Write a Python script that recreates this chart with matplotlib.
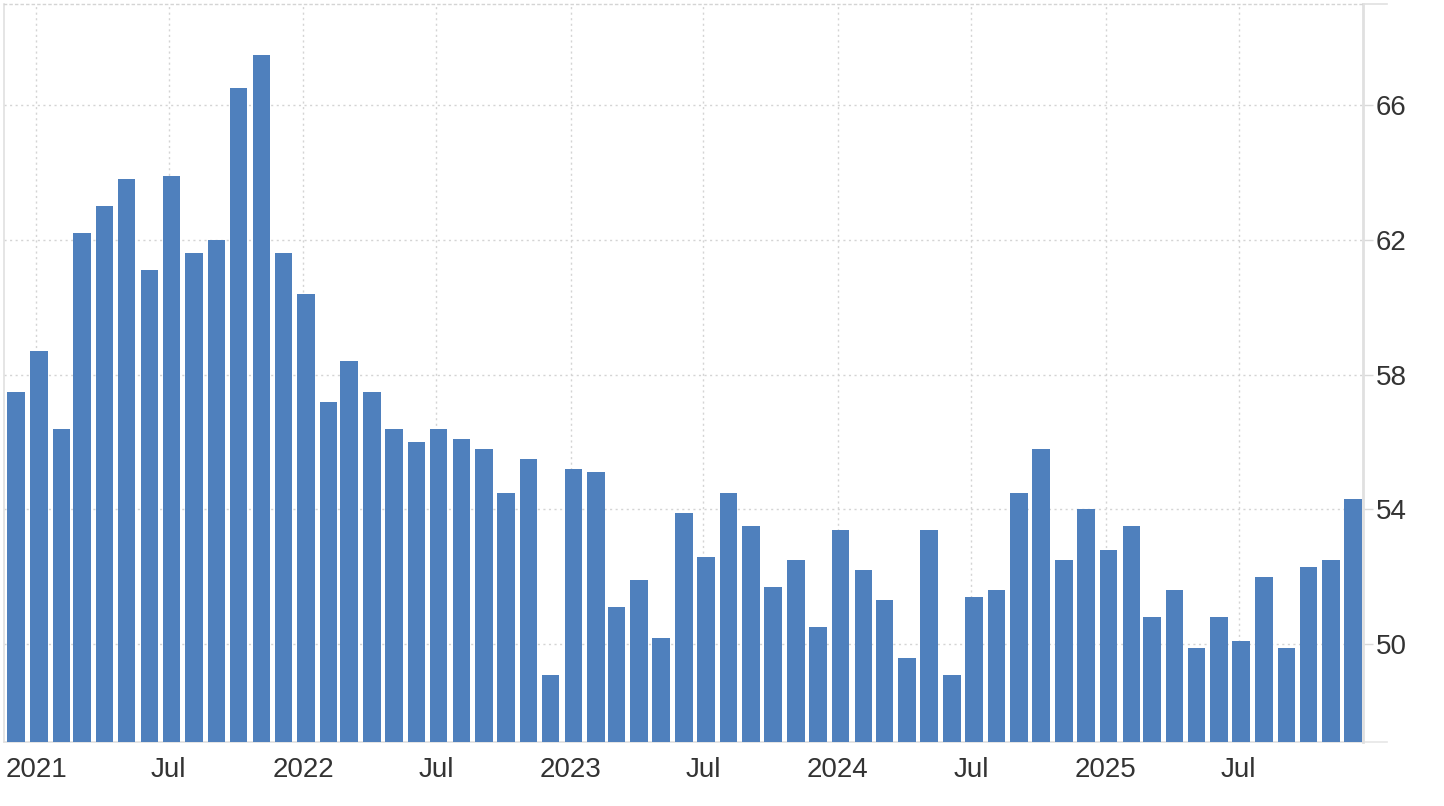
import matplotlib
matplotlib.use('Agg')
import matplotlib.pyplot as plt
import matplotlib.dates as mdates
import pandas as pd

# monthly index readings, Dec 2020 .. Dec 2025
values = [57.5,
          58.7, 56.4, 62.2, 63.0, 63.8, 61.1, 63.9, 61.6, 62.0, 66.5, 67.5, 61.6,
          60.4, 57.2, 58.4, 57.5, 56.4, 56.0, 56.4, 56.1, 55.8, 54.5, 55.5, 49.1,
          55.2, 55.1, 51.1, 51.9, 50.2, 53.9, 52.6, 54.5, 53.5, 51.7, 52.5, 50.5,
          53.4, 52.2, 51.3, 49.6, 53.4, 49.1, 51.4, 51.6, 54.5, 55.8, 52.5, 54.0,
          52.8, 53.5, 50.8, 51.6, 49.9, 50.8, 50.1, 52.0, 49.9, 52.3, 52.5, 54.3]
months = pd.date_range('2020-12-01', periods=len(values), freq='MS')
yticks = [50, 54, 58, 62, 66]

bar_color = '#4f80bd'
grid_color = '#d4d4d4'
text_color = '#333333'

plt.rcParams['font.family'] = ['Liberation Sans', 'DejaVu Sans']

fig = plt.figure(figsize=(14.44, 8.06), dpi=100)
ax = fig.add_axes([4/1444, 1 - 742/806, (1363 - 4)/1444, (742 - 4)/806])

ax.bar(months + pd.Timedelta(days=3.5), values, width=23.9, color=bar_color,
       linewidth=0, zorder=3)

ax.set_xlim(pd.Timestamp('2020-11-18'), pd.Timestamp('2025-12-18'))
ax.set_ylim(47.1, 69)

# x axis: Jan -> year, Jul -> "Jul"
ax.xaxis.set_major_locator(mdates.MonthLocator(bymonth=[1, 7]))
ax.xaxis.set_major_formatter(plt.FuncFormatter(
    lambda x, pos: mdates.num2date(x).strftime('%Y') if mdates.num2date(x).month == 1 else 'Jul'))

ax.yaxis.tick_right()
ax.set_yticks(yticks)
ax.set_yticklabels([str(t) for t in yticks])

ax.tick_params(axis='x', length=0, pad=11, labelsize=20, labelcolor=text_color)
ax.tick_params(axis='y', length=7, width=1, color='#d9d9d9', pad=2,
               labelsize=20, labelcolor=text_color)

ax.grid(True, linestyle=(0, (1.5, 2.5)), color=grid_color, linewidth=1, zorder=0)

for side in ['left', 'right', 'bottom']:
    ax.spines[side].set_color('#e0e0e0')
ax.spines['right'].set_linewidth(2)
ax.spines['left'].set_linewidth(1.2)
ax.spines['bottom'].set_linewidth(1.2)
ax.spines['top'].set_color(grid_color)
ax.spines['top'].set_linestyle((0, (1.5, 2.5)))
ax.spines['top'].set_linewidth(1)

# axis line stubs running past the right spine, as in the reference
ax.plot([1.0, 1.018], [0, 0], transform=ax.transAxes, color='#e6e6e6',
        linewidth=1.2, clip_on=False)
ax.plot([1.0, 1.018], [1, 1], transform=ax.transAxes, color='#e0e0e0',
        linewidth=1.2, clip_on=False)

fig.savefig('out.png', dpi=100, facecolor='white')
